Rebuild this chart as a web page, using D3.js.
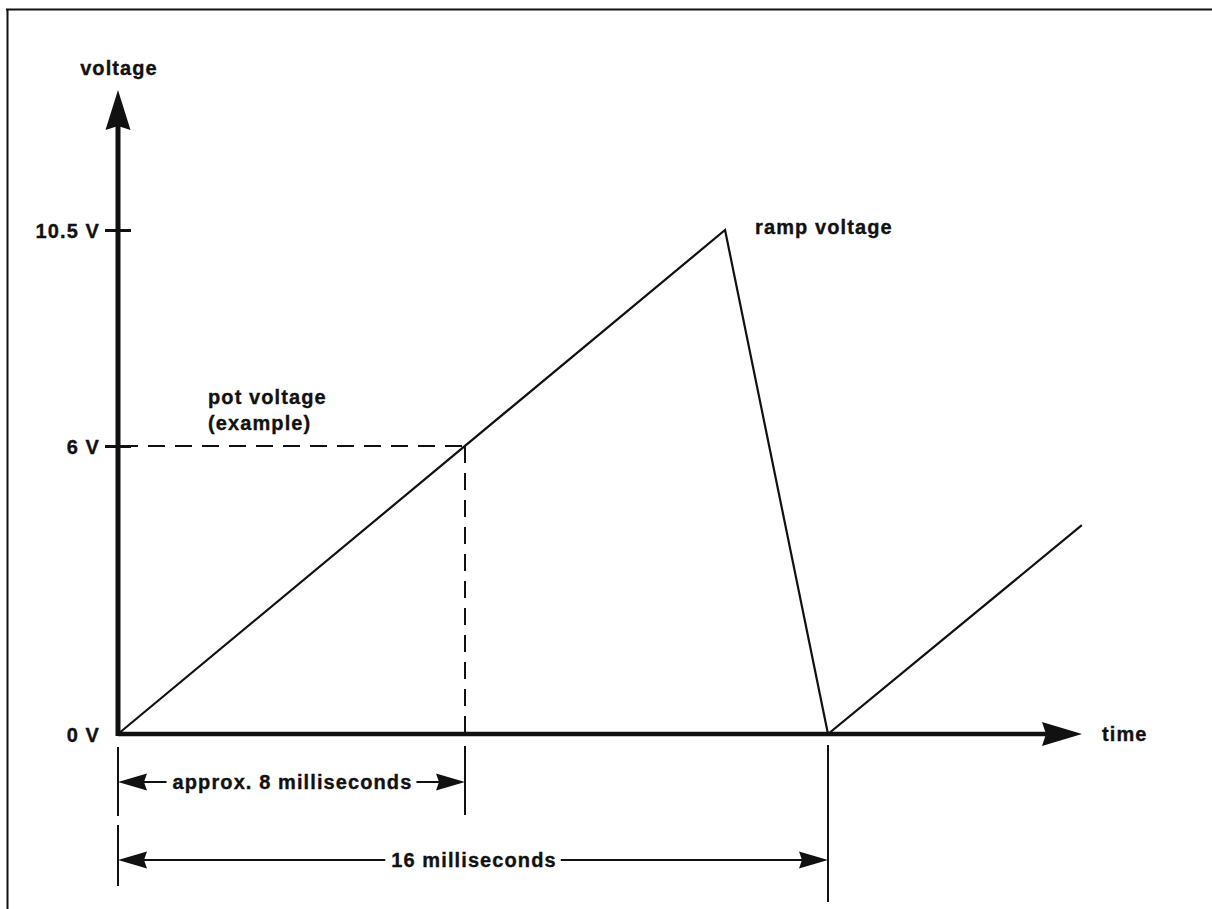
<!DOCTYPE html>
<html>
<head>
<meta charset="utf-8">
<script src="https://cdn.jsdelivr.net/npm/d3@7"></script>
<style>
  html, body { margin: 0; padding: 0; background: #fff; }
  svg { display: block; }
  text { font-family: "Liberation Sans", Arial, Helvetica, sans-serif; font-weight: bold; font-size: 20px; letter-spacing: 1.1px; fill: #111; stroke: #111; stroke-width: 0.35px; }
</style>
</head>
<body>
<svg id="chart" width="1212" height="909"></svg>
<script>
// Ramp waveform (time in ms, voltage in V)
const rampTimes = [0, 13.68, 16, 21.72];
const rampVolts = [0, 10.5, 0, 4.35];

// Example pot voltage and where the ramp crosses it
const potVolt = 6;
const potTime = 7.82;

// Voltage axis ticks
const yTickValues = [0, 6, 10.5];
const yTickLabels = ["0 V", "6 V", "10.5 V"];

// Time spans marked under the axis
const spanEnds = [potTime, 16];
const spanLabels = ["approx. 8 milliseconds", "16 milliseconds"];

const svg = d3.select("#chart");
const ink = "#111";

const x = d3.scaleLinear().domain([0, 16]).range([118, 828]);
const y = d3.scaleLinear().domain([0, 10.5]).range([734, 230]);

// frame lines at top and left
svg.append("line").attr("x1", 6).attr("x2", 1212).attr("y1", 9.5).attr("y2", 9.5)
  .attr("stroke", ink).attr("stroke-width", 2);
svg.append("line").attr("x1", 7.5).attr("x2", 7.5).attr("y1", 9).attr("y2", 909)
  .attr("stroke", ink).attr("stroke-width", 2);

// filled dart-shaped arrowhead; angle 0 points right
function dart(tx, ty, angle, len, half, notch) {
  const c = Math.cos(angle), s = Math.sin(angle);
  const pt = (a, b) => [tx + a * c - b * s, ty + a * s + b * c];
  const p = [pt(0, 0), pt(-len, -half), pt(-len + notch, 0), pt(-len, half)];
  return "M" + p.map(q => q.join(",")).join("L") + "Z";
}

const x0 = x(0), y0 = y(0);

// voltage axis with arrow
svg.append("line").attr("x1", x0).attr("x2", x0).attr("y1", y0 + 2).attr("y2", 120)
  .attr("stroke", ink).attr("stroke-width", 5);
svg.append("path").attr("d", dart(x0, 90, -Math.PI / 2, 40, 12.5, 4)).attr("fill", ink);

// time axis with arrow
svg.append("line").attr("x1", x0).attr("x2", 1050).attr("y1", y0).attr("y2", y0)
  .attr("stroke", ink).attr("stroke-width", 4.5);
svg.append("path").attr("d", dart(1082, y0, 0, 40, 12, 4)).attr("fill", ink);

// voltage ticks via d3 axis; marks cross the axis line
const yAxis = d3.axisLeft(y)
  .tickValues(yTickValues)
  .tickFormat((d, i) => yTickLabels[i])
  .tickSizeInner(13)
  .tickSizeOuter(0)
  .tickPadding(6);
const gy = svg.append("g").attr("transform", `translate(${x0},0)`).call(yAxis);
gy.select(".domain").remove();
gy.selectAll(".tick line")
  .attr("x1", d => d === 0 ? 0 : 13)
  .attr("x2", d => d === 0 ? 0 : -13)
  .attr("stroke", ink).attr("stroke-width", 3);
gy.selectAll(".tick text")
  .attr("font-family", null).attr("font-size", null)
  .attr("fill", ink)
  .attr("x", -18)
  .attr("dy", "0.36em");

// axis titles
svg.append("text").attr("x", x0 + 1).attr("y", 75).attr("text-anchor", "middle").text("voltage");
svg.append("text").attr("x", 1102).attr("y", y0 + 7).text("time");

// dashed guides to the pot voltage crossing
svg.append("line").attr("x1", x0 + 3).attr("x2", x(potTime)).attr("y1", y(potVolt)).attr("y2", y(potVolt))
  .attr("stroke", ink).attr("stroke-width", 2.2).attr("stroke-dasharray", "17 10");
svg.append("line").attr("x1", x(potTime)).attr("x2", x(potTime)).attr("y1", y(potVolt)).attr("y2", y0)
  .attr("stroke", ink).attr("stroke-width", 2).attr("stroke-dasharray", "17 10");

// ramp waveform
const line = d3.line().x((d, i) => x(rampTimes[i])).y(d => y(d));
svg.append("path").datum(rampVolts).attr("d", line)
  .attr("fill", "none").attr("stroke", ink).attr("stroke-width", 2.2).attr("stroke-linejoin", "miter");

// curve labels
svg.append("text").attr("x", x(13.68) + 30).attr("y", y(10.5) + 4).text("ramp voltage");
svg.append("text").attr("x", 208).attr("y", 404).text("pot voltage");
svg.append("text").attr("x", 208).attr("y", 430).text("(example)");

// extension lines below the time axis
const ext = [
  [0, 747, 816], [0, 825, 886],
  [potTime, 746, 815],
  [16, 745, 902]
];
svg.selectAll("line.ext").data(ext).join("line").attr("class", "ext")
  .attr("x1", d => x(d[0])).attr("x2", d => x(d[0]))
  .attr("y1", d => d[1]).attr("y2", d => d[2])
  .attr("stroke", ink).attr("stroke-width", 2);

// dimension lines with centred labels
const spanY = [782, 860];
spanEnds.forEach((t, i) => {
  const xa = x(0), xb = x(t), yy = spanY[i];
  const g = svg.append("g");
  const label = g.append("text").attr("x", (xa + xb) / 2 + 1).attr("y", yy + 7)
    .attr("text-anchor", "middle").text(spanLabels[i]);
  const bb = label.node().getBBox();
  const gap = 6;
  g.append("line").attr("x1", xa + 20).attr("x2", bb.x - gap).attr("y1", yy).attr("y2", yy)
    .attr("stroke", ink).attr("stroke-width", 2);
  g.append("line").attr("x1", bb.x + bb.width + gap - 2).attr("x2", xb - 20).attr("y1", yy).attr("y2", yy)
    .attr("stroke", ink).attr("stroke-width", 2);
  g.append("path").attr("d", dart(xa, yy, Math.PI, 29, 8.5, 3)).attr("fill", ink);
  g.append("path").attr("d", dart(xb, yy, 0, 29, 8.5, 3)).attr("fill", ink);
});
</script>
</body>
</html>
